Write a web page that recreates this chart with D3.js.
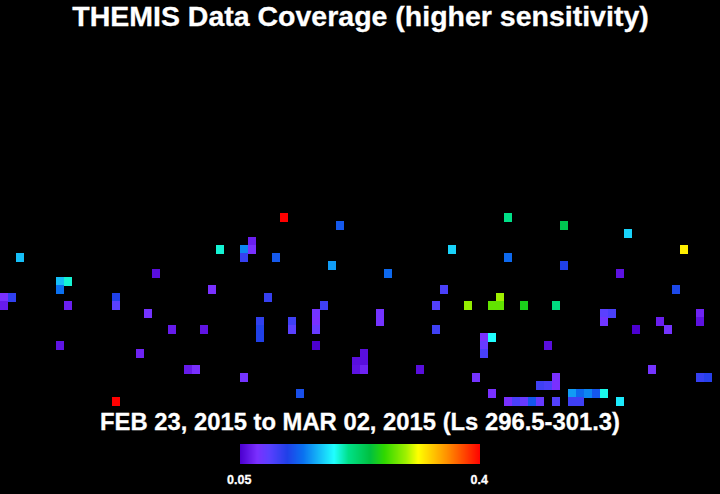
<!DOCTYPE html>
<html>
<head>
<meta charset="utf-8">
<script src="https://cdn.jsdelivr.net/npm/d3@7"></script>
<style>
  html, body { margin: 0; padding: 0; background: #000; }
  text { font-family: "Liberation Sans", Arial, sans-serif; font-weight: bold; fill: #fff; stroke: #fff; stroke-width: 0.3; }
</style>
</head>
<body>
<div id="chart"></div>
<script>
const cellCols = [2,7,8,7,0,1,0,8,14,14,18,21,25,19,26,27,7,17,23,24,14,
  35,42,31,31,30,30,34,41,56,48,55,33,40,54,58,39,39,39,47,47,32,32,32,36,36,54,39,45,44,45,44,45,52,30,59,37,
  63,70,78,85,63,70,77,84,62,61,62,65,69,75,76,75,87,87,82,83,79,60,60,60,61,68,81,87,88,69,69,67,68,61,
  71,72,73,74,75,63,64,65,66,67,69,71,72,77];
const cellRows = [31,34,34,35,36,36,37,37,36,37,38,40,40,33,35,30,42,43,45,45,49,
  26,27,29,30,30,31,31,32,30,33,35,36,37,37,37,38,39,40,38,39,39,40,41,39,40,40,42,43,44,44,45,45,45,46,46,48,
  26,27,28,30,31,32,33,35,36,37,37,37,37,38,38,39,38,39,39,40,40,41,42,43,41,42,45,46,46,46,47,47,47,48,
  48,48,48,48,48,49,49,49,49,49,49,49,49,49];
const cellValues = [.166,.166,.194,.141,.075,.111,.064,.066,.118,.092,.078,.064,.06,.057,.075,.194,.06,.068,.064,.074,.4,
  .4,.13,.066,.075,.148,.108,.13,.155,.1725,.1375,.099,.108,.104,.0955,.288,.078,.075,.085,.078,.078,.111,.118,.118,.104,.092,.104,.05,.057,.057,.057,.059,.068,.057,.078,.078,.125,
  .2075,.232,.1725,.315,.1375,.118,.059,.122,.2915,.274,.274,.251,.211,.092,.099,.08,.068,.059,.066,.078,.05,.075,.085,.1,.1865,.057,.078,.108,.115,.075,.075,.104,.099,.075,
  .155,.1375,.148,.129,.19,.075,.099,.085,.129,.085,.0955,.104,.104,.18];

const colorValues = [.05,.0745,.092,.118,.141,.1865,.2075,.239,.26,.2915,.309,.351,.4];
const colorStops = ["#4c00d0","#7a30ff","#5a40ff","#2040e8","#0a70f0","#20ffff","#00e088","#00c040","#30d800","#a0f000","#ffff00","#ff9000","#ff0000"];
const barTicks = [0.05, 0.4];

const width = 720;
const height = 494;

const x = d3.scaleLinear().domain([0, 90]).range([0, 720]);
const y = d3.scaleLinear().domain([0, 50]).range([5.3, 405.3]);
const color = d3.scaleLinear().domain(colorValues).range(colorStops).clamp(true);
const barX = d3.scaleLinear().domain([0.05, 0.4]).range([240, 480]);

const svg = d3.select("#chart")
  .append("svg")
  .attr("width", width)
  .attr("height", height)
  .style("display", "block")
  .style("background", "#000");

svg.append("g")
  .attr("shape-rendering", "crispEdges")
  .selectAll("rect")
  .data(d3.range(cellCols.length))
  .join("rect")
    .attr("x", i => x(cellCols[i]))
    .attr("y", i => y(cellRows[i]))
    .attr("width", x(1) - x(0))
    .attr("height", y(1) - y(0) + 0.4)
    .attr("fill", i => color(cellValues[i]));

svg.append("text")
  .attr("x", 360.5)
  .attr("y", 26)
  .attr("text-anchor", "middle")
  .attr("font-size", 28.5)
  .text("THEMIS Data Coverage (higher sensitivity)");

svg.append("text")
  .attr("x", 360)
  .attr("y", 430)
  .attr("text-anchor", "middle")
  .attr("font-size", 23.8)
  .text("FEB 23, 2015 to MAR 02, 2015 (Ls 296.5-301.3)");

// colour bar
const barSteps = d3.range(240).map(i => barX.invert(240 + i));

svg.append("g")
  .attr("shape-rendering", "crispEdges")
  .selectAll("rect")
  .data(barSteps)
  .join("rect")
    .attr("x", d => barX(d))
    .attr("y", 444)
    .attr("width", 1)
    .attr("height", 20)
    .attr("fill", d => color(d));

svg.append("g")
  .selectAll("text")
  .data(barTicks)
  .join("text")
    .attr("x", d => barX(d) - 0.8)
    .attr("y", 483.5)
    .attr("text-anchor", "middle")
    .attr("font-size", 12.5)
    .text(d => d);
</script>
</body>
</html>
